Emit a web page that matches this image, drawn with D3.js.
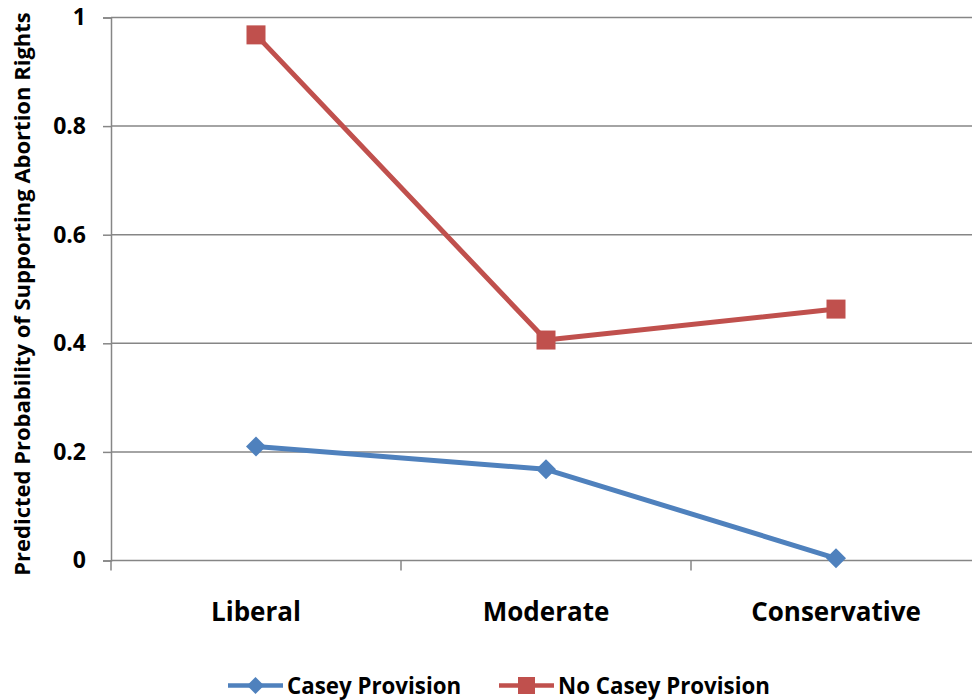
<!DOCTYPE html>
<html>
<head>
<meta charset="utf-8">
<script src="https://cdn.jsdelivr.net/npm/d3@7"></script>
<style>
  html, body { margin: 0; padding: 0; background: #fff; }
  svg { display: block; }
  text { font-family: "Open Sans", Lato, sans-serif; font-weight: bold; fill: #000; }
</style>
</head>
<body>
<svg id="chart" width="972" height="700"></svg>
<script>
// Ideology groups along the x axis
const categories = ["Liberal", "Moderate", "Conservative"];
// Predicted probabilities for each series
const caseyValues = [0.210, 0.168, 0.004];
const noCaseyValues = [0.968, 0.406, 0.463];
const yTicks = [0, 0.2, 0.4, 0.6, 0.8, 1];
const yTickLabels = ["0", "0.2", "0.4", "0.6", "0.8", "1"];
const seriesNames = ["Casey Provision", "No Casey Provision"];

const series = [
  { name: seriesNames[0], values: caseyValues, color: "#4F81BD", marker: "diamond" },
  { name: seriesNames[1], values: noCaseyValues, color: "#C0504D", marker: "square" }
];

const svg = d3.select("#chart");
const plotLeft = 111, plotRight = 981, plotTop = 17.5, plotBottom = 560.5;

const x = d3.scaleBand().domain(categories).range([plotLeft, plotRight]);
const y = d3.scaleLinear().domain([0, 1]).range([plotBottom, plotTop]);

// Horizontal gridlines
svg.append("g")
  .selectAll("line")
  .data(yTicks.slice(1))
  .join("line")
  .attr("x1", plotLeft).attr("x2", plotRight)
  .attr("y1", d => y(d)).attr("y2", d => y(d))
  .attr("stroke", "#868686").attr("stroke-width", 1.5);

// Y axis
const yAxis = svg.append("g")
  .attr("transform", `translate(${plotLeft},0)`)
  .call(d3.axisLeft(y).tickValues(yTicks).tickFormat((d, i) => yTickLabels[i]).tickSize(8).tickPadding(17));
yAxis.select(".domain").attr("stroke", "#868686").attr("stroke-width", 1.5);
yAxis.selectAll(".tick line").attr("stroke", "#868686").attr("stroke-width", 1.5);
yAxis.selectAll(".tick text")
  .attr("font-size", 23)
  .attr("font-family", "'Open Sans', sans-serif")
  .attr("font-weight", "bold")
  .attr("fill", "#000");

// X axis with ticks at band boundaries
const xAxis = svg.append("g").attr("transform", `translate(0,${plotBottom})`);
xAxis.append("line").attr("x1", plotLeft).attr("x2", plotRight)
  .attr("stroke", "#868686").attr("stroke-width", 1.5);
const boundaries = categories.map(c => x(c)).concat([plotRight]);
xAxis.selectAll("line.tk")
  .data(boundaries)
  .join("line").attr("class", "tk")
  .attr("x1", d => d).attr("x2", d => d)
  .attr("y1", 0).attr("y2", 10)
  .attr("stroke", "#868686").attr("stroke-width", 1.5);
xAxis.selectAll("text")
  .data(categories)
  .join("text")
  .attr("x", d => x(d) + x.bandwidth() / 2)
  .attr("y", 60)
  .attr("text-anchor", "middle")
  .attr("font-size", 26)
  .text(d => d);

// Y axis title
svg.append("text")
  .attr("transform", `translate(30,${(plotTop + plotBottom) / 2 + 5}) rotate(-90)`)
  .attr("text-anchor", "middle")
  .attr("font-size", 22)
  .text("Predicted Probability of Supporting Abortion Rights");

const cx = d => x(d) + x.bandwidth() / 2;
const line = d3.line().x((d, i) => cx(categories[i])).y(d => y(d));

function drawMarker(g, type, color, px, py, size) {
  if (type === "diamond") {
    g.append("path")
      .attr("d", d3.symbol(d3.symbolSquare, size * size / 2)())
      .attr("transform", `translate(${px},${py}) rotate(45)`)
      .attr("fill", color);
  } else {
    g.append("rect")
      .attr("x", px - size / 2).attr("y", py - size / 2)
      .attr("width", size).attr("height", size)
      .attr("fill", color);
  }
}

// Series lines and markers
series.forEach(s => {
  const g = svg.append("g");
  g.append("path")
    .datum(s.values)
    .attr("d", line)
    .attr("fill", "none")
    .attr("stroke", s.color)
    .attr("stroke-width", 5)
    .attr("stroke-linejoin", "round");
  s.values.forEach((v, i) => drawMarker(g, s.marker, s.color, cx(categories[i]), y(v), s.marker === "diamond" ? 20 : 19));
});

// Legend
const legendY = 685.5;
const legendItems = [
  { s: series[0], x0: 228 },
  { s: series[1], x0: 499 }
];
legendItems.forEach(({ s, x0 }) => {
  const g = svg.append("g");
  g.append("line")
    .attr("x1", x0).attr("x2", x0 + 55)
    .attr("y1", legendY).attr("y2", legendY)
    .attr("stroke", s.color).attr("stroke-width", 4.5);
  drawMarker(g, s.marker, s.color, x0 + 27.5, legendY, 17);
  g.append("text")
    .attr("x", x0 + 59)
    .attr("y", legendY + 8)
    .attr("font-size", 22.3)
    .text(s.name);
});
</script>
</body>
</html>
